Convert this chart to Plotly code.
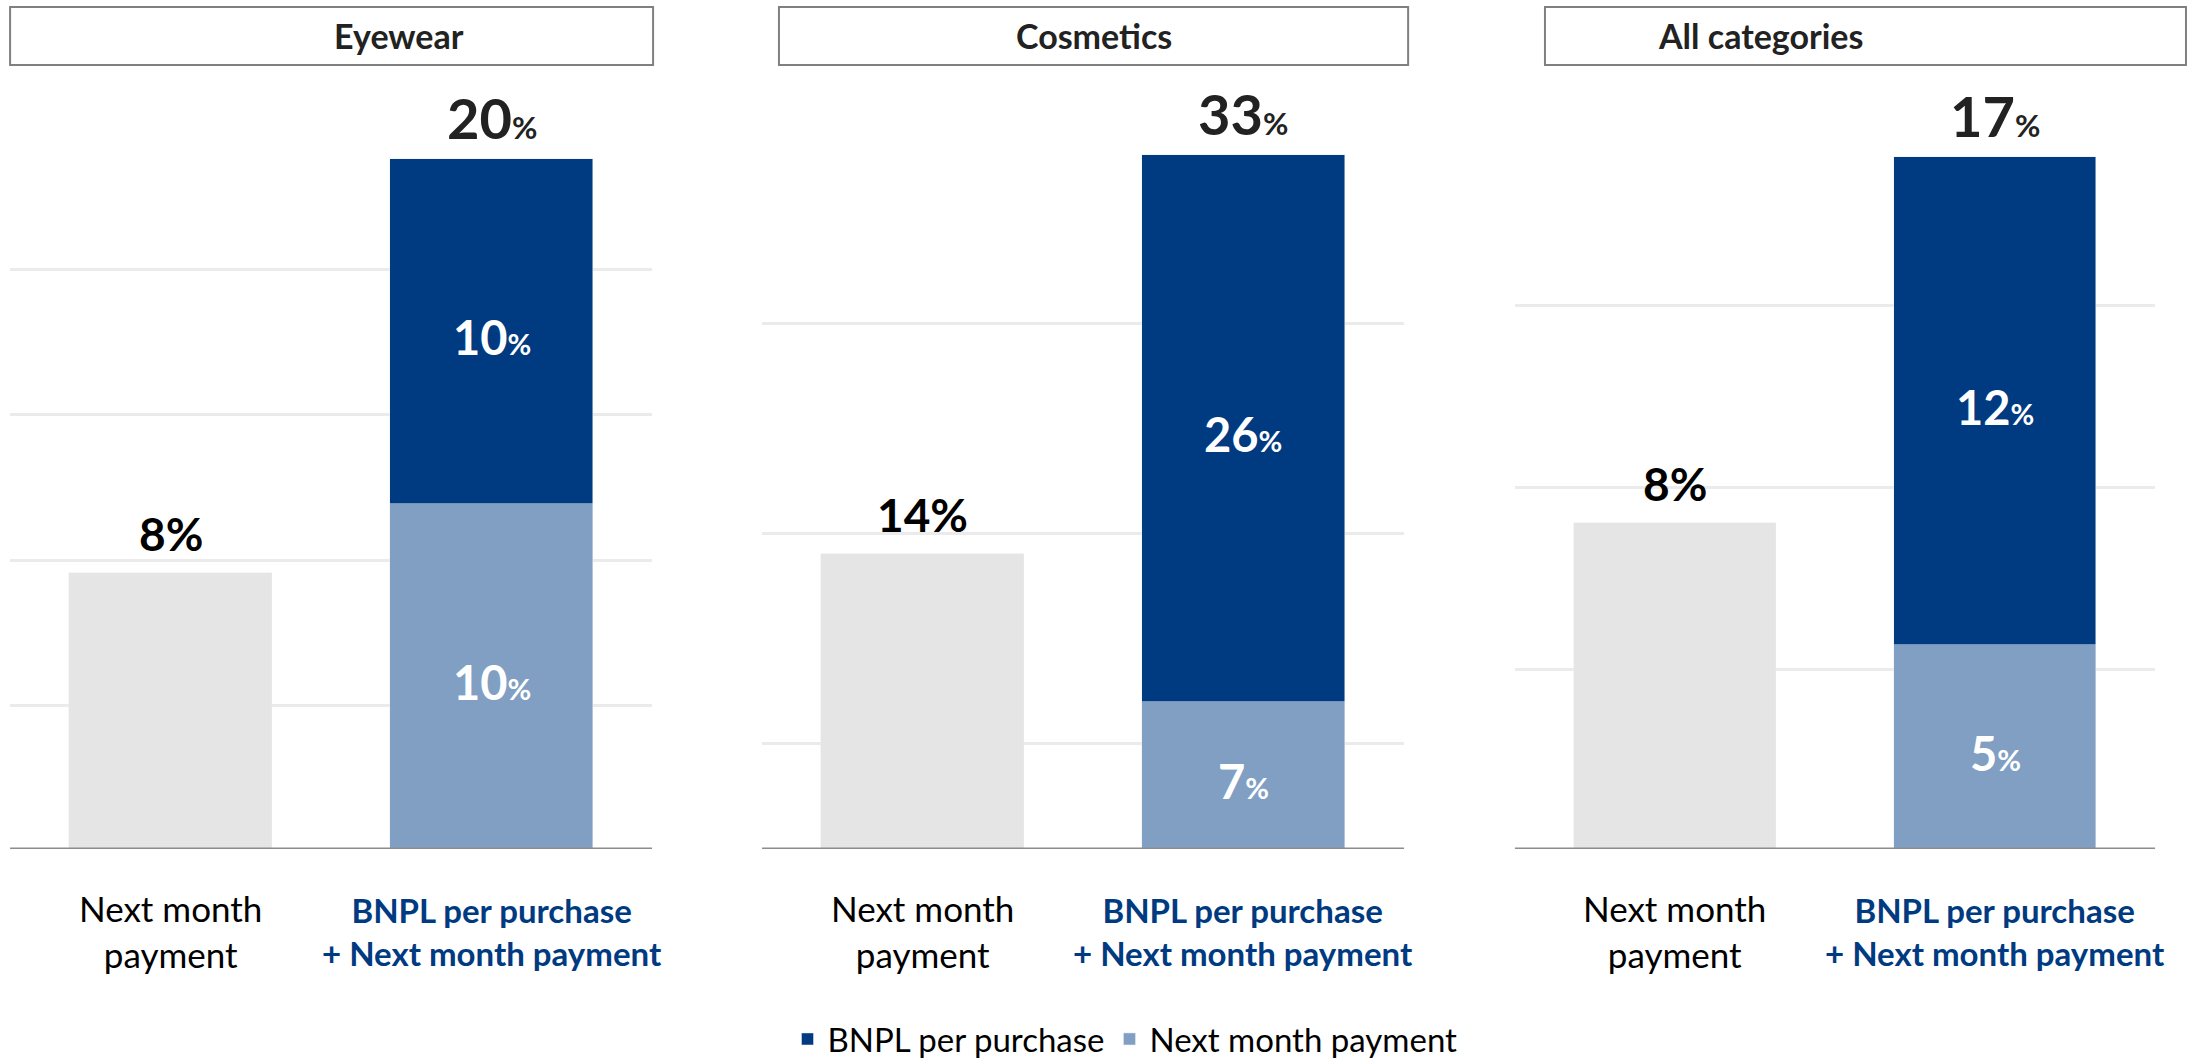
import plotly.graph_objects as go

# ---- data ----
panels = ["Eyewear", "Cosmetics", "All categories"]
next_month_only = [8, 14, 8]          # "Next month payment" alone
combo_next_month = [10, 7, 5]         # next-month part of the combined option
combo_bnpl = [10, 26, 12]             # BNPL-per-purchase part of the combined option
combo_total = [20, 33, 17]
category_labels = ["Next month<br>payment", "BNPL per purchase<br>+ Next month payment"]
series_names = ["BNPL per purchase", "Next month payment"]

# per-panel axis layout
y_max = [21.7, 35.6, 18.4]
grid_vals = [[4.15, 8.35, 12.6, 16.8], [5, 15, 25], [4.4, 8.87, 13.35]]
x_domains = [[0.0046, 0.2973], [0.3475, 0.6402], [0.6908, 0.9827]]
title_boxes = [[0.0046, 0.2978], [0.3552, 0.6421], [0.7045, 0.9968]]

NAVY = "#003A80"
LIGHT = "#809FC3"
GREY = "#E5E5E5"
FONT = "Lato, 'Open Sans', sans-serif"

W, H = 2193, 1058
y_dom = [(H - 849) / H, (H - 100) / H]

fig = go.Figure()
annotations = []
shapes = []

for i in range(3):
    sfx = "" if i == 0 else str(i + 1)
    xa, ya = "x" + sfx, "y" + sfx
    fig.add_trace(go.Bar(x=[0], y=[next_month_only[i]], marker_color=GREY,
                         width=0.63, showlegend=False, xaxis=xa, yaxis=ya,
                         hoverinfo="skip"))
    fig.add_trace(go.Bar(x=[1], y=[combo_next_month[i]], marker_color=LIGHT,
                         width=0.63, name=series_names[1], legendgroup="nm",
                         showlegend=(i == 0), legendrank=2, xaxis=xa, yaxis=ya))
    fig.add_trace(go.Bar(x=[1], y=[combo_bnpl[i]], marker_color=NAVY,
                         width=0.63, name=series_names[0], legendgroup="bnpl",
                         showlegend=(i == 0), legendrank=1, xaxis=xa, yaxis=ya))

    fig.update_layout(**{
        "xaxis" + sfx: dict(domain=x_domains[i], range=[-0.5, 1.5], showticklabels=False,
                            showgrid=False, zeroline=False, showline=False, fixedrange=True,
                            anchor=ya),
        "yaxis" + sfx: dict(domain=y_dom, range=[0, y_max[i]], tickvals=grid_vals[i],
                            showticklabels=False, showgrid=True, gridcolor="#EBEBEB",
                            gridwidth=2.5, zeroline=False, showline=False, anchor=xa),
    })

    # baseline
    shapes.append(dict(type="line", xref=xa + " domain", yref=ya, x0=0, x1=1, y0=0, y1=0,
                       line=dict(color="#8C8C8C", width=3)))

    # value labels
    annotations.append(dict(xref=xa, yref=ya, x=0, y=next_month_only[i], yanchor="bottom",
                            yshift=10, showarrow=False,
                            text=f"<b>{next_month_only[i]}%</b>",
                            font=dict(family=FONT, size=46, color="#000000")))
    annotations.append(dict(xref=xa, yref=ya, x=1, y=combo_total[i], yanchor="bottom",
                            yshift=6, showarrow=False,
                            text=f"<b>{combo_total[i]}<span style='font-size:31px'>%</span></b>",
                            font=dict(family=FONT, size=56, color="#222222")))
    annotations.append(dict(xref=xa, yref=ya, x=1, y=combo_next_month[i] / 2, yanchor="middle",
                            yshift=-6, showarrow=False,
                            text=f"<b>{combo_next_month[i]}<span style='font-size:29px'>%</span></b>",
                            font=dict(family=FONT, size=47, color="#FFFFFF")))
    annotations.append(dict(xref=xa, yref=ya, x=1,
                            y=combo_next_month[i] + combo_bnpl[i] / 2, yanchor="middle",
                            yshift=-6, showarrow=False,
                            text=f"<b>{combo_bnpl[i]}<span style='font-size:29px'>%</span></b>",
                            font=dict(family=FONT, size=47, color="#FFFFFF")))

    # category labels
    annotations.append(dict(xref=xa, yref="paper", x=0, y=(H - 931) / H, yanchor="middle",
                            showarrow=False, text=category_labels[0],
                            font=dict(family=FONT, size=35, color="#000000")))
    annotations.append(dict(xref=xa, yref="paper", x=1, y=(H - 931) / H, yanchor="middle",
                            showarrow=False, text=f"<b>{category_labels[1]}</b>",
                            font=dict(family=FONT, size=33, color=NAVY)))

    # panel title box
    bx0, bx1 = title_boxes[i]
    shapes.append(dict(type="rect", xref="paper", yref="paper", x0=bx0, x1=bx1,
                       y0=(H - 65) / H, y1=(H - 7) / H,
                       line=dict(color="#808080", width=2), fillcolor="rgba(0,0,0,0)"))
    annotations.append(dict(xref="paper", yref="paper", x=(bx0 + bx1) / 2, y=(H - 36) / H,
                            yanchor="middle", showarrow=False, text=f"<b>{panels[i]}</b>",
                            font=dict(family=FONT, size=34, color="#222222")))

fig.update_layout(
    width=W, height=H,
    margin=dict(l=0, r=0, t=0, b=0, autoexpand=False),
    paper_bgcolor="white", plot_bgcolor="white",
    barmode="stack",
    bargap=0,
    annotations=annotations,
    shapes=shapes,
    legend=dict(orientation="h", x=0.513, xanchor="center", y=(H - 1039) / H,
                yanchor="middle", font=dict(family=FONT, size=33, color="#000000"),
                itemwidth=30, tracegroupgap=0, traceorder="normal"),
    font=dict(family=FONT),
)

fig.write_html("out.html")
